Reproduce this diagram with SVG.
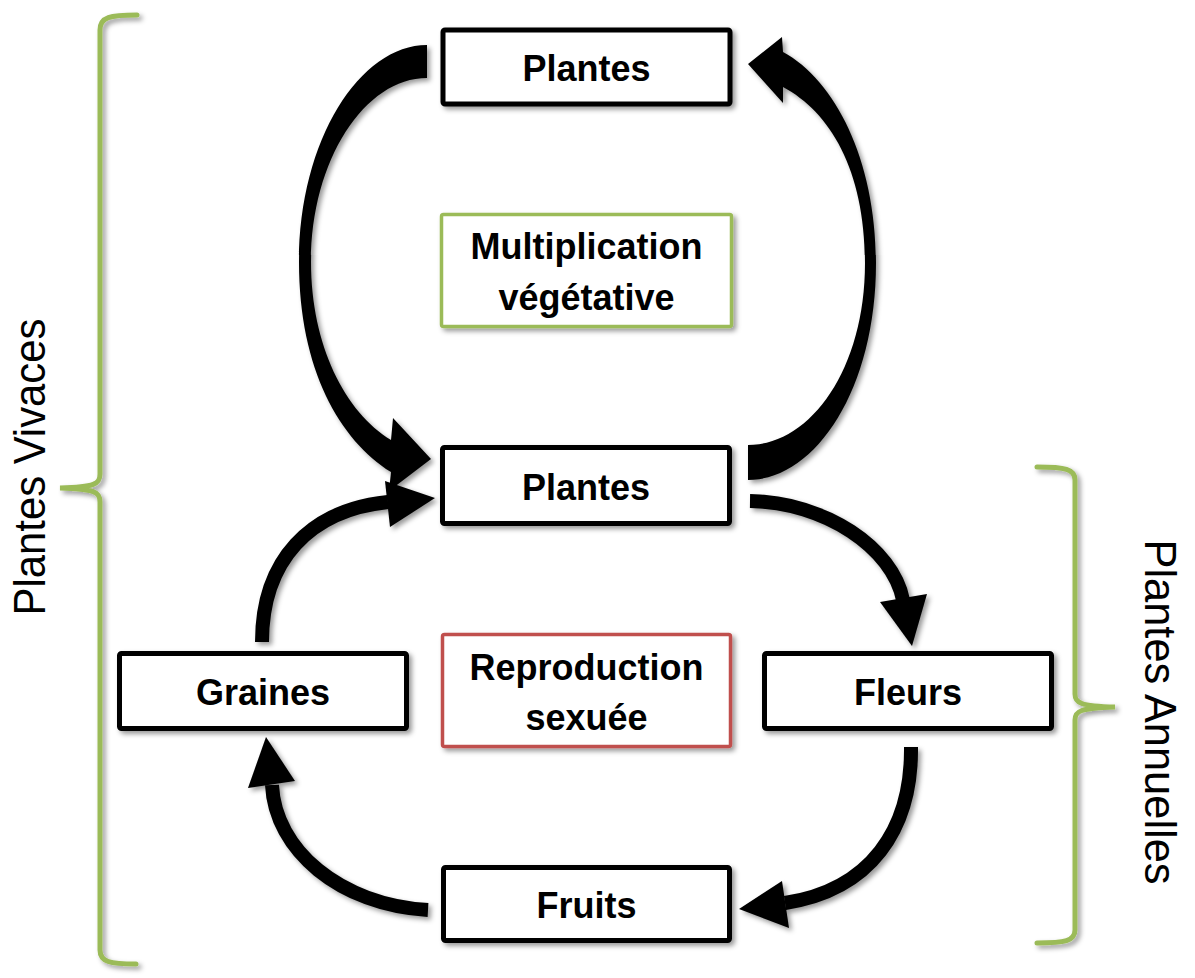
<svg xmlns="http://www.w3.org/2000/svg" width="1195" height="978" viewBox="0 0 1195 978">
  <defs>
    <filter id="shadow" x="-20%" y="-20%" width="140%" height="140%">
      <feDropShadow dx="3" dy="3" stdDeviation="2.5" flood-color="#000" flood-opacity="0.4"/>
    </filter>
  </defs>
  <style>
    .box { fill: #fff; stroke: #000; stroke-width: 5; filter: url(#shadow); }
    .green { fill: #fff; stroke: #9BBB59; stroke-width: 3.5; filter: url(#shadow); }
    .red { fill: #fff; stroke: #C0504D; stroke-width: 3.5; filter: url(#shadow); }
    .label { font-family: "Liberation Sans", Arial, sans-serif; font-weight: bold; font-size: 36px; fill: #000; text-anchor: middle; }
    .side { font-family: "Liberation Sans", Arial, sans-serif; font-size: 44px; fill: #000; text-anchor: middle; }
    .brace { fill: none; stroke: #9BBB59; stroke-width: 5; stroke-linecap: round; filter: url(#shadow); }
    .shaft { fill: none; stroke: #000; stroke-width: 14; }
    .head { fill: #000; }
    .big { fill: #000; }
  </style>

  <!-- braces and side labels -->
  <g id="vivaces">
    <path class="brace" d="M137,15 C110,15 100,17 100,30 L100,474 C100,484 95,487 60,488 C95,489 100,492 100,502 L100,950 C100,962 110,964 136,964"/>
    <text class="side" transform="translate(45,467) rotate(-90)" textLength="297" lengthAdjust="spacingAndGlyphs">Plantes Vivaces</text>
  </g>
  <g id="annuelles">
    <path class="brace" d="M1037,467 C1065,467 1075,469 1075,480 L1075,694 C1075,703 1080,706 1115,707 C1080,708 1075,711 1075,720 L1075,930 C1075,941 1065,943 1037,943"/>
    <text class="side" transform="translate(1145,712) rotate(90)" textLength="345" lengthAdjust="spacingAndGlyphs">Plantes Annuelles</text>
  </g>

  <!-- connectors -->
  <g id="connectors">
    <g filter="url(#shadow)">
      <!-- vegetative loop: top plants down to middle plants -->
      <path class="big" d="M427,45 C360,45 299,140 299,262 C299,370 340,440 391,472 L389,491 L431,459 L393,418 L391,440 C345,412 311,345 311,262 C311,160 365,78 427,78 Z"/>
      <!-- vegetative loop: middle plants back up to top plants -->
      <path class="big" d="M748,480 C815,480 876,390 876,263 C876,160 835,80 783,52 L782,37 L748,64 L783,103 L783,87 C830,112 865,170 865,263 C865,370 810,445 748,445 Z"/>
    </g>
    <g filter="url(#shadow)">
      <!-- Plantes -> Fleurs -->
      <path class="shaft" d="M750,501 C825,502 893,548 903,600"/>
      <polygon class="head" points="880,602 927,594 912,646"/>
      <!-- Fleurs -> Fruits -->
      <path class="shaft" d="M911,747 C912,830 870,890 785,903"/>
      <polygon class="head" points="782,881 739,909 789,928"/>
      <!-- Fruits -> Graines -->
      <path class="shaft" d="M428,910 C340,905 275,850 272,785"/>
      <polygon class="head" points="248,788 266,737 295,781"/>
      <!-- Graines -> Plantes -->
      <path class="shaft" d="M262,642 C262,560 310,510 388,502"/>
      <polygon class="head" points="385,481 435,498 390,527"/>
    </g>
  </g>

  <!-- nodes -->
  <g id="plantes-haut">
    <rect class="box" x="443" y="30" width="287" height="74" rx="2"/>
    <text class="label" x="586.5" y="81">Plantes</text>
  </g>
  <g id="multiplication">
    <rect class="green" x="441.5" y="214.5" width="290" height="112" rx="2"/>
    <text class="label" x="586.5" y="259">Multiplication</text>
    <text class="label" x="586.5" y="310">végétative</text>
  </g>
  <g id="plantes-milieu">
    <rect class="box" x="442.5" y="447.5" width="287" height="76" rx="2"/>
    <text class="label" x="586" y="500">Plantes</text>
  </g>
  <g id="graines">
    <rect class="box" x="119.5" y="653.5" width="287" height="75" rx="2"/>
    <text class="label" x="263" y="705">Graines</text>
  </g>
  <g id="reproduction">
    <rect class="red" x="442.5" y="634.5" width="288" height="112" rx="2"/>
    <text class="label" x="586.5" y="680">Reproduction</text>
    <text class="label" x="586.5" y="730">sexuée</text>
  </g>
  <g id="fleurs">
    <rect class="box" x="764.5" y="653.5" width="287" height="75" rx="2"/>
    <text class="label" x="908" y="705">Fleurs</text>
  </g>
  <g id="fruits">
    <rect class="box" x="443.5" y="867.5" width="286" height="73" rx="2"/>
    <text class="label" x="586.5" y="918">Fruits</text>
  </g>
</svg>
